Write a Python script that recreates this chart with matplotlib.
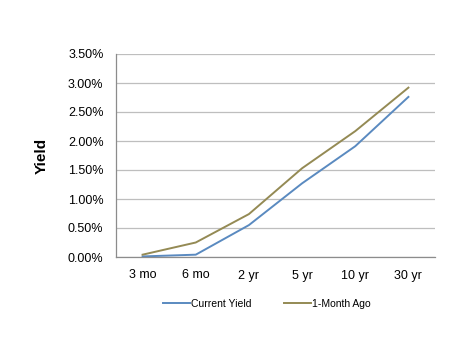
import matplotlib.pyplot as plt
from matplotlib.ticker import PercentFormatter

plt.rcParams['font.family'] = ['Liberation Sans', 'DejaVu Sans']

maturities = ['3 mo', '6 mo', '2 yr', '5 yr', '10 yr', '30 yr']
current_yield = [0.01, 0.04, 0.55, 1.27, 1.91, 2.76]
month_ago = [0.04, 0.25, 0.74, 1.53, 2.17, 2.92]

fig = plt.figure(figsize=(4.67, 3.41), dpi=100)
ax = fig.add_axes([116 / 467, 1 - 257 / 341, 319 / 467, 203 / 341])

x = range(len(maturities))
ax.plot(x, current_yield, color='#5A8AC0', lw=1.4, label='Current Yield')
ax.plot(x, month_ago, color='#948A54', lw=1.4, label='1-Month Ago')

ax.set_xlim(-0.5, len(maturities) - 0.5)
ax.set_ylim(0, 3.5)
ax.set_yticks([i * 0.5 for i in range(8)])
ax.yaxis.set_major_formatter(PercentFormatter(decimals=2))
ax.set_xticks(list(x))
ax.set_xticklabels(maturities)
ax.tick_params(length=0, labelsize=9)
ax.tick_params(axis='y', pad=9)
ax.tick_params(axis='x', pad=9)
ax.grid(axis='y', color='#BEBEBE', lw=0.9)
ax.set_axisbelow(True)
for s in ('top', 'right'):
    ax.spines[s].set_visible(False)
for s in ('left', 'bottom'):
    ax.spines[s].set_color('#8C8C8C')
    ax.spines[s].set_linewidth(0.9)

ax.set_ylabel('Yield', fontsize=11, fontweight='bold', labelpad=14)

ax.legend(loc='center', bbox_to_anchor=(0.473, -0.232), ncol=2, frameon=False,
          fontsize=7.5, handlelength=2.6, handletextpad=0.1, columnspacing=3.1)

fig.savefig('out.png', dpi=100)
